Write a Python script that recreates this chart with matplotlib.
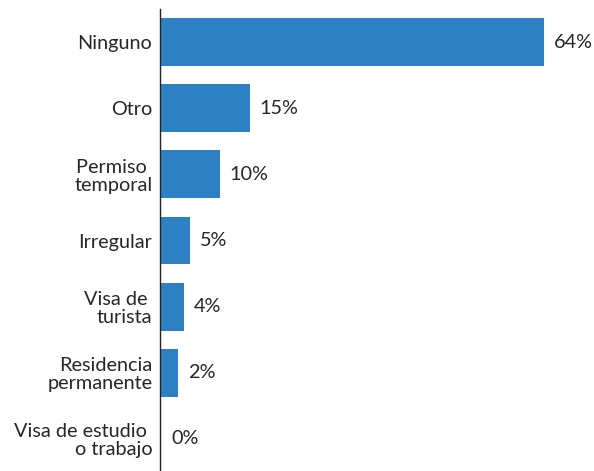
import matplotlib.pyplot as plt

categories = ["Ninguno", "Otro", "Permiso \ntemporal", "Irregular", "Visa de \nturista",
              "Residencia\npermanente", "Visa de estudio \no trabajo"]
values = [64, 15, 10, 5, 4, 3, 0.2]
value_labels = ["64%", "15%", "10%", "5%", "4%", "2%", "0%"]

plt.rcParams['font.family'] = ['Lato', 'DejaVu Sans']

fig = plt.figure(figsize=(5.94, 4.71), dpi=100)
ax = fig.add_axes([160 / 594, -1 / 471, 434 / 594, 463 / 471])

ypos = list(range(len(categories)))
ax.barh(ypos, values, height=0.725, color='#2E80C5')

for y, v, lab in zip(ypos, values, value_labels):
    ax.annotate(lab, xy=(v, y), xytext=(7, 0), textcoords='offset points',
                va='center', ha='left', fontsize=14.3, color='#262626')

ax.set_yticks(ypos)
ax.set_yticklabels(categories, fontsize=14.3, color='#262626', linespacing=1.05)
ax.tick_params(axis='y', length=0, pad=5.5)
ax.set_xticks([])
ax.set_xlim(0, 434 / 6)
ax.set_ylim(6.5, -0.5)

for s in ['top', 'right', 'bottom']:
    ax.spines[s].set_visible(False)
ax.spines['left'].set_color('#222222')
ax.spines['left'].set_linewidth(1.0)

fig.savefig('out.png', dpi=100)
